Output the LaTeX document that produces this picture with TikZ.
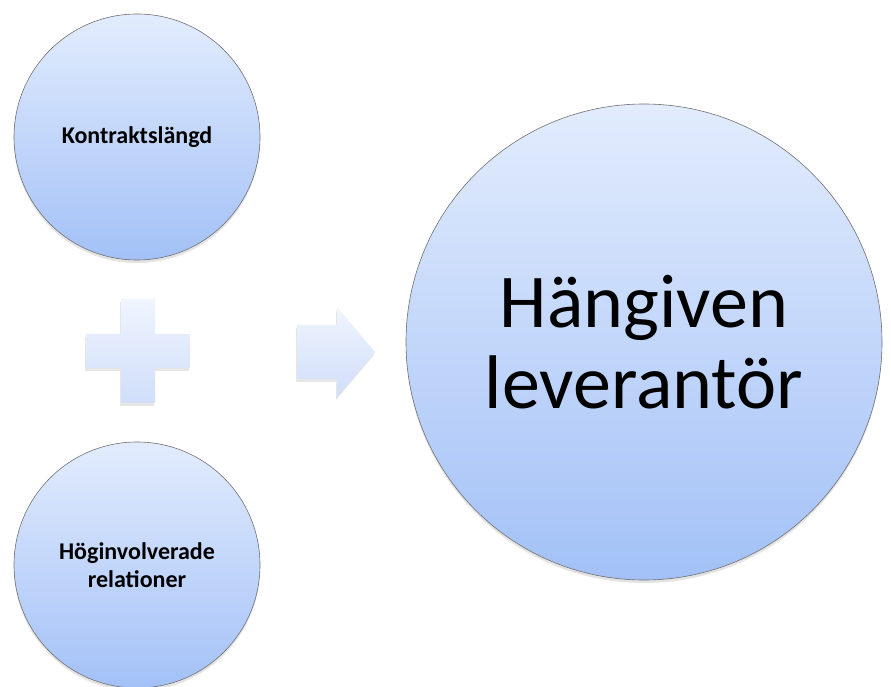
\documentclass[tikz,border=0pt]{standalone}
\usepackage{fontspec}
\setmainfont{Carlito}
\usetikzlibrary{shadows,positioning}

\definecolor{ballTop}{HTML}{E2ECFD}
\definecolor{ballBot}{HTML}{A3C1F7}
\definecolor{signTop}{HTML}{F0F5FE}
\definecolor{signBot}{HTML}{D0DEFA}
\definecolor{ballLine}{HTML}{707070}

\begin{document}
\begin{tikzpicture}[
    x=1pt, y=1pt,
    ball/.style={
        circle,
        draw=ballLine,
        line width=0.6pt,
        top color=ballTop,
        bottom color=ballBot,
        align=center,
        inner sep=0pt,
        drop shadow={opacity=0.22, shadow xshift=0pt, shadow yshift=-3pt}
    },
    small/.style={font=\fontsize{24}{28}\selectfont\bfseries},
    big/.style={font=\fontsize{76}{81}\selectfont},
    sign/.style={
        top color=signTop,
        bottom color=signBot,
        drop shadow={opacity=0.2, shadow xshift=-1pt, shadow yshift=-3pt}
    }
]

\useasboundingbox (0,0) rectangle (891,686);

% circles
\node[ball, small, minimum size=246pt] (contract) at (137,549) {Kontraktslängd};
\node[ball, small, minimum size=246pt] (relations) at (137,121) {Höginvolverade\\relationer};
\node[ball, big, minimum size=476pt] (supplier) at (644,344) {Hängiven\\leverantör};

% plus sign
\coordinate (plus) at (138,335);
\path[sign] ([shift={(-17,-52)}]plus) -- ++(34,0) -- ++(0,35) -- ++(35,0) -- ++(0,34)
    -- ++(-35,0) -- ++(0,35) -- ++(-34,0) -- ++(0,-35) -- ++(-35,0) -- ++(0,-34)
    -- ++(35,0) -- cycle;

% arrow
\coordinate (arrowtip) at (375,334);
\path[sign] ([shift={(-78,-27)}]arrowtip) -- ++(40,0) -- ++(0,-18) -- (arrowtip)
    -- ++(-38,45) -- ++(0,-18) -- ++(-40,0) -- cycle;

\end{tikzpicture}
\end{document}
